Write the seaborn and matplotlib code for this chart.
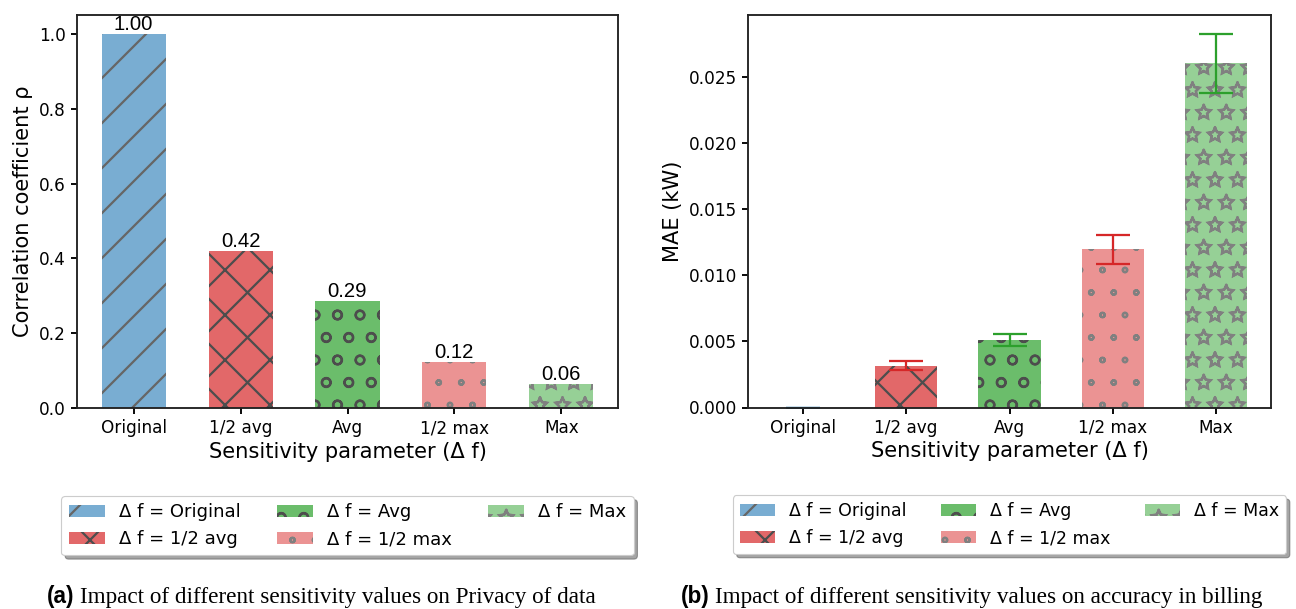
import matplotlib
matplotlib.use("Agg")
import numpy as np
import pandas as pd
import seaborn as sns
import matplotlib.pyplot as plt
import matplotlib.legend as mlegend
import matplotlib.hatch as mhatch
from matplotlib.patches import Shadow
from matplotlib.colors import to_rgb

# ---------------- data ----------------
categories = ["Original", "1/2 avg", "Avg", "1/2 max", "Max"]
legend_labels = ["Δ f = Original", "Δ f = 1/2 avg", "Δ f = Avg", "Δ f = 1/2 max", "Δ f = Max"]
rho_values = [1.00, 0.42, 0.286, 0.123, 0.063]
mae_values = [0.0, 0.00318, 0.00509, 0.01197, 0.02606]
mae_errors = [0.0, 0.00032, 0.00045, 0.00112, 0.00222]
yticks_rho = [0.0, 0.2, 0.4, 0.6, 0.8, 1.0]
yticks_mae = [0.000, 0.005, 0.010, 0.015, 0.020, 0.025]

# ---------------- style ----------------
base_colors = ["#1f77b4", "#d62728", "#2ca02c", "#d62728", "#2ca02c"]
alphas = [0.6, 0.7, 0.7, 0.5, 0.5]
hatches = ["//", "xx", "oo", "..", "**"]

# outline (unfilled) stars and dots, as in the reference rendering
mhatch.Stars.filled = False
mhatch.SmallFilledCircles.filled = False


def blend(c, a):
    r = np.array(to_rgb(c))
    return tuple(a * r + (1 - a) * 1.0)


fill_colors = [blend(c, a) for c, a in zip(base_colors, alphas)]
hatch_colors = [(1 - a,) * 3 for a in alphas]

DPI = 270
W, H = 1296, 609

plt.rcParams.update({
    "font.family": ["DejaVu Sans"],
    "hatch.linewidth": 0.6,
    "axes.linewidth": 0.5,
    "axes.edgecolor": "#222222",
    "xtick.major.size": 1.5,
    "ytick.major.size": 1.5,
    "xtick.major.width": 0.5,
    "ytick.major.width": 0.5,
    "xtick.major.pad": 1.5,
    "ytick.major.pad": 1.5,
    "xtick.labelsize": 4.5,
    "ytick.labelsize": 4.5,
    "axes.labelsize": 5.6,
})


class SmallShadow(Shadow):
    def __init__(self, patch, ox, oy, **kw):
        super().__init__(patch, 1.0, -1.0, **kw)


mlegend.Shadow = SmallShadow

fig = plt.figure(figsize=(W / DPI, H / DPI), dpi=DPI)
ax1 = fig.add_axes([77 / W, (H - 408) / H, 541 / W, 392.7 / H])
ax2 = fig.add_axes([748 / W, (H - 407.5) / H, 523 / W, 392.2 / H])

df1 = pd.DataFrame({"cat": categories, "val": rho_values})
df2 = pd.DataFrame({"cat": categories, "val": mae_values})

for ax, df in [(ax1, df1), (ax2, df2)]:
    sns.barplot(data=df, x="cat", y="val", hue="cat", hue_order=categories,
                order=categories, palette=fill_colors, saturation=1,
                width=0.6, errorbar=None, legend=False, ax=ax)
    for p in ax.patches:
        i = int(round(p.get_x() + p.get_width() / 2))
        p.set_facecolor(fill_colors[i])
        p.set_hatch(hatches[i])
        p.set_edgecolor(hatch_colors[i])
        p.set_linewidth(0)

# bar value labels
for c in ax1.containers:
    ax1.bar_label(c, fmt="%.2f", fontsize=5.4, family="Liberation Sans", padding=0)

# error bars
for i, cat in enumerate(categories):
    ax2.errorbar(i, mae_values[i], yerr=mae_errors[i], fmt="none",
                 ecolor=base_colors[i], elinewidth=0.6, capsize=4.6, capthick=0.6)

ax1.set_yticks(yticks_rho)
ax1.set_yticklabels([f"{v:.1f}" for v in yticks_rho])
ax2.set_yticks(yticks_mae)
ax2.set_yticklabels([f"{v:.3f}" for v in yticks_mae])
ax1.set_ylim(0, 1.05)
ax2.set_ylim(0, 0.0297)

ax1.set_ylabel("Correlation coefficient ρ", labelpad=1.5)
ax2.set_ylabel("MAE (kW)", labelpad=1.4)
for ax, lfs in ((ax1, 4.8), (ax2, 4.65)):
    ax.set_xlabel("Sensitivity parameter (Δ f)", labelpad=1.2)
    ax.set_xlim(-0.53, 4.53)
    handles = [p for p in sorted(ax.patches, key=lambda p: p.get_x())]
    leg = ax.legend(handles, legend_labels, ncol=3, loc="upper center",
                    bbox_to_anchor=(0.5, -0.224), borderaxespad=0,
                    fontsize=lfs, fancybox=True, shadow=True, frameon=True)
    leg.get_frame().set_linewidth(0.3)
    leg.get_frame().set_edgecolor("#cccccc")

# captions
cap_fs = 6.0
cap_y = (H - 603) / H
for lab, txt, x0 in [("(a)", "Impact of different sensitivity values on Privacy of data", 47),
                     ("(b)", "Impact of different sensitivity values on accuracy in billing", 681)]:
    t1 = fig.text(x0 / W, cap_y, lab, fontsize=cap_fs, fontweight="bold",
                  family="Liberation Sans", va="baseline", ha="left")
    fig.canvas.draw()
    bb = t1.get_window_extent()
    fig.text((bb.x1 + 5) / W, cap_y, txt, fontsize=cap_fs * 1.03,
             family="Liberation Serif", va="baseline", ha="left")

fig.savefig("out.png", dpi=DPI)
